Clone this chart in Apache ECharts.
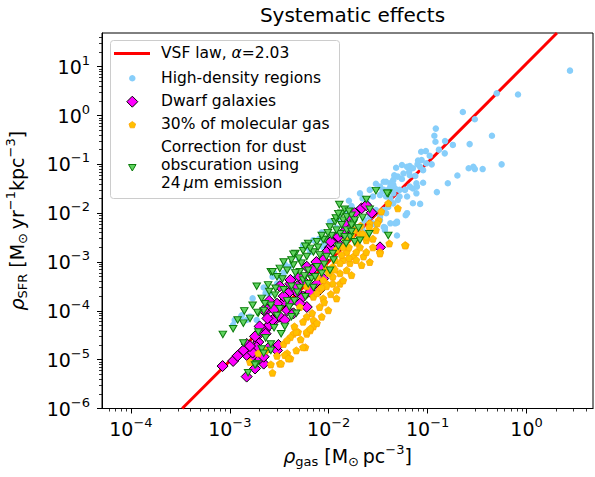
<!DOCTYPE html>
<html>
<head>
<meta charset="utf-8">
<script src="https://cdn.jsdelivr.net/npm/echarts@6/dist/echarts.min.js"></script>
<style>
  html, body { margin: 0; padding: 0; background: #fff; }
  #chart { width: 595px; height: 477px; }
</style>
</head>
<body>
<div id="chart"></div>
<script>
// values (gas density in Msun/pc^3, SFR density in Msun/yr/kpc^3)
const lawGas = [3.3e-4, 2.03];
const lawSfr = [1.0e-6, 49];

const denseGas = [2.75, 0.82, 0.50, 0.227, 0.30, 0.121, 0.117, 0.12, 0.15, 0.447, 0.266, 0.56, 0.29, 0.30, 0.26, 0.36,
  0.20, 0.16, 0.124, 0.084, 0.149, 0.105, 0.086, 0.096, 0.079, 0.084, 0.075, 0.066, 0.055, 0.048, 0.046, 0.036,
  0.044, 0.090, 0.077, 0.071, 0.077, 0.059, 0.052, 0.042, 0.045, 0.038, 0.062, 0.060, 0.049, 0.037, 0.087, 0.097,
  0.071, 0.090, 0.062, 0.066, 0.057, 0.050, 0.045, 0.042, 0.047, 0.038, 0.036, 0.033, 0.042, 0.050, 0.045, 0.040,
  0.036, 0.038, 0.030, 0.028, 0.033, 0.026, 0.023, 0.0215, 0.022, 0.028, 0.033, 0.030, 0.036, 0.042, 0.047, 0.037,
  0.049, 0.078, 0.066, 0.0207, 0.024, 0.033, 0.045, 0.052, 0.049, 0.062, 0.071, 0.0103, 0.0099, 0.0088, 0.0070, 0.0047,
  0.0032, 0.0030, 0.0025, 0.0017, 0.0013, 0.00112, 0.00108, 0.00132, 0.00148, 0.00187, 0.0016, 0.0023, 0.0025, 0.0030, 0.0027,
  0.0152, 0.004, 0.005, 0.006, 0.008, 0.012, 0.015, 0.018, 0.0035, 0.0065, 0.009, 0.011, 0.020, 0.025, 0.017, 0.028,
  0.035, 0.040, 0.026, 0.0022, 0.0028, 0.0036, 0.0045, 0.0055, 0.007, 0.0085, 0.0125, 0.016, 0.022, 0.030, 0.055,
  0.065, 0.080, 0.11, 0.13, 0.18];
const denseSfr = [8.3, 2.7, 2.85, 1.18, 0.84, 0.54, 0.385, 0.29, 0.30, 0.385, 0.26, 0.10, 0.089, 0.080, 0.083, 0.080,
  0.059, 0.041, 0.027, 0.0155, 0.168, 0.15, 0.181, 0.187, 0.10, 0.089, 0.058, 0.092, 0.097, 0.085, 0.060, 0.044,
  0.044, 0.042, 0.041, 0.032, 0.0255, 0.030, 0.022, 0.035, 0.0255, 0.022, 0.022, 0.0091, 0.0064, 0.0051, 0.122, 0.105,
  0.083, 0.076, 0.089, 0.060, 0.065, 0.056, 0.048, 0.041, 0.032, 0.044, 0.030, 0.0235, 0.020, 0.0186, 0.0159, 0.0135,
  0.0116, 0.010, 0.0116, 0.010, 0.0085, 0.0085, 0.0072, 0.0057, 0.0045, 0.0062, 0.0072, 0.0057, 0.0052, 0.0062, 0.0062, 0.0045,
  0.0035, 0.035, 0.035, 0.0255, 0.0186, 0.035, 0.038, 0.030, 0.0067, 0.010, 0.016, 0.0067, 0.0028, 0.0020, 6.8e-4, 5.0e-4,
  5.0e-4, 3.6e-4, 2.3e-4, 1.8e-4, 7.6e-5, 6.5e-5, 5.1e-5, 8.1e-5, 6.5e-5, 6.5e-5, 7.6e-5, 2.3e-4, 1.4e-4, 3.4e-4, 5.0e-4,
  0.010, 8e-4, 1.2e-3, 2e-3, 3e-3, 5e-3, 7e-3, 9e-3, 6e-4, 1.6e-3, 2.5e-3, 3.5e-3, 0.012, 0.015, 0.014, 0.022,
  0.028, 0.030, 0.030, 3e-4, 6e-4, 9e-4, 1.5e-3, 2.2e-3, 2.8e-3, 4e-3, 8e-3, 0.018, 0.020, 0.040, 0.050,
  0.070, 0.12, 0.10, 0.20, 0.25];

const dwarfGas = [8.45e-4, 0.00108, 0.00137, 0.00148, 0.0018, 0.0022, 0.0020, 0.00166, 0.00194, 0.00187, 0.00148, 0.0025,
  0.0030, 0.0031, 0.00226, 0.0020, 0.00244, 0.0025, 0.00286, 0.0032, 0.0036, 0.0038, 0.0041, 0.0035, 0.0041, 0.0047,
  0.0055, 0.0065, 0.0076, 0.0088, 0.0081, 0.0060, 0.0051, 0.0044, 0.0215, 0.0272, 0.033, 0.0164, 0.012, 0.013,
  0.0103, 0.0088, 0.0095, 0.0081, 0.0065, 0.0060, 0.0051, 0.0041, 0.0032, 0.0039, 0.0025, 0.0030, 0.0022, 0.0027,
  0.0020, 0.0023, 0.00148, 0.0017, 0.00137, 0.0022, 0.0145, 0.024, 0.0183, 0.0125, 0.0105, 0.0140, 0.0170, 0.0075,
  0.0068, 0.0056, 0.0048, 0.0035, 0.0028, 0.0024, 0.0018, 0.0016, 0.0012];
const dwarfSfr = [7.4e-6, 9.4e-6, 1.5e-5, 4.5e-6, 6.6e-6, 8.3e-6, 1.06e-5, 1.15e-5, 2.3e-5, 1.8e-5, 1.25e-5, 1.8e-5,
  1.55e-5, 2.0e-5, 4.0e-5, 3.4e-5, 1.1e-4, 5.1e-5, 6.5e-5, 7.6e-5, 6.5e-5, 1.03e-4, 1.53e-4, 1.53e-4, 3.6e-4, 2.45e-4,
  1.95e-4, 2.45e-4, 3.6e-4, 4.6e-4, 2.7e-4, 1.2e-4, 1.4e-4, 8.9e-5, 0.0126, 0.0102, 0.0020, 0.0049, 0.0033, 0.0022,
  0.0020, 0.0011, 0.0016, 8e-4, 5.9e-4, 8e-4, 5e-4, 4.3e-4, 3.2e-4, 2.3e-4, 1.6e-4, 1.4e-4, 1.03e-4, 6.5e-5,
  4.8e-5, 3.4e-5, 2.1e-5, 1.4e-5, 1.55e-5, 1.15e-5, 0.0062, 0.0145, 0.010, 0.0033, 0.0026, 0.0040, 0.0075, 0.0010,
  7e-4, 4e-4, 3.2e-4, 2e-4, 1.05e-4, 7e-5, 3e-5, 1.9e-5, 1.2e-5];

const molGas = [0.040, 0.050, 0.034, 0.032, 0.026, 0.041, 0.060, 0.024, 0.028, 0.033, 0.0207, 0.0225, 0.026, 0.0178,
  0.0164, 0.014, 0.0152, 0.013, 0.011, 0.013, 0.011, 0.0095, 0.012, 0.0099, 0.0081, 0.007, 0.007, 0.006, 0.0065, 0.0049,
  0.0058, 0.0047, 0.0038, 0.0041, 0.0032, 0.0027, 0.0035, 0.0044, 0.0081, 0.007, 0.006, 0.0076, 0.0088, 0.0095, 0.011,
  0.013, 0.0152, 0.019, 0.0215, 0.017, 0.012, 0.006, 0.0051, 0.0016, 0.00194, 0.0023, 0.0033, 0.0036, 0.0039, 0.0055,
  0.0047, 0.006, 0.0065, 0.0085, 0.0076, 0.0041, 0.0038, 0.0088, 0.0076, 0.0095, 0.031, 0.0257, 0.0207, 0.024, 0.059,
  0.033, 0.015, 0.017, 0.019, 0.014, 0.022, 0.018, 0.012, 0.016, 0.0135, 0.0190, 0.0240, 0.0280, 0.0300, 0.0210,
  0.0160, 0.0115, 0.0100, 0.0085, 0.0105, 0.0090, 0.0068, 0.0055, 0.0045, 0.0052, 0.0030, 0.0026, 0.0140, 0.0115];
const molSfr = [0.016, 0.0126, 0.0108, 0.0072, 0.0062, 0.0024, 0.0022, 0.0028, 0.0020, 0.0016, 0.0020, 0.0013, 0.0010, 0.0013,
  9.5e-4, 0.0011, 6.8e-4, 5.9e-4, 5e-4, 3.6e-4, 3.6e-4, 3.6e-4, 1.8e-4, 1.03e-4, 1.2e-4, 6.5e-5, 4.8e-5, 3.4e-5, 4e-5, 3.7e-5,
  1.8e-5, 1.55e-5, 1.35e-5, 1.06e-5, 8.3e-6, 5.4e-6, 2.1e-5, 3.4e-5, 2.7e-4, 1.95e-4, 3.2e-4, 5e-4, 4.3e-4, 7.4e-4, 8e-4,
  9.5e-4, 0.0016, 0.0016, 8.7e-4, 5.4e-4, 2.7e-4, 7.6e-5, 1.2e-4, 9e-6, 1.35e-5, 1.55e-5, 8.3e-6, 1.25e-5, 1.06e-5, 1.8e-5,
  3.7e-5, 3.7e-5, 4.3e-5, 7.6e-5, 5.6e-5, 2.9e-5, 2.5e-5, 1.8e-4, 2.3e-4, 3.2e-4, 0.0062, 0.0052, 0.0038, 0.0033, 0.0022,
  0.0015, 0.0028, 0.0035, 0.0025, 0.0020, 0.0038, 0.0045, 0.0018, 0.0012, 0.0014, 0.0011, 0.0016, 0.0030, 0.0045, 0.0055,
  0.0020, 0.0011, 6.0e-4, 3.0e-4, 2.2e-4, 1.5e-4, 9.0e-5, 6.0e-5, 4.8e-5, 2.6e-5, 1.2e-5, 8e-6, 4.2e-4, 7.0e-4];

const dustGas = [0.0128, 0.0135, 0.0116, 0.014, 0.0152, 0.017, 0.0178, 0.040, 0.0257, 0.040, 0.0062, 0.0076, 0.0092,
  0.0107, 0.013, 0.0152, 0.0164, 0.0183, 0.0207, 0.0046, 0.0055, 0.0070, 0.0060, 0.0081, 0.0095, 0.011, 0.0035, 0.0026,
  0.0032, 0.0044, 0.0053, 0.0051, 0.0062, 0.0067, 0.0076, 0.0085, 0.0103, 0.00244, 0.0030, 0.00187, 0.00286, 0.0035,
  0.0042, 0.0051, 0.0058, 0.007, 0.0038, 0.0032, 0.0026, 0.0022, 0.00194, 0.0016, 0.00137, 0.00108, 0.00085, 0.0036,
  0.0033, 0.0026, 0.0021, 0.00187, 0.00153, 0.0047, 0.0042, 0.0055, 0.0019, 0.0027, 0.00137, 0.0018, 0.00194, 0.0022,
  0.0026, 0.00226, 0.030, 0.039, 0.024, 0.0118, 0.0044, 0.0088, 0.0145, 0.017, 0.0183, 0.0103,
  0.0145, 0.0160, 0.0125, 0.0135, 0.0120, 0.0098, 0.0085, 0.0078, 0.0065, 0.0058, 0.0050, 0.0042, 0.0038, 0.0046,
  0.0057, 0.0034, 0.0029, 0.0025, 0.0021, 0.0017, 0.0014, 0.0012, 0.0048, 0.0062, 0.0073, 0.0090, 0.0112, 0.0125,
  0.0150, 0.0170, 0.0200, 0.0220, 0.0260, 0.0045, 0.0040, 0.0030, 0.0028, 0.0023];
const dustSfr = [0.015, 0.010, 0.0067, 0.0072, 0.0085, 0.0091, 0.0062, 0.0255, 0.0038, 0.0035, 0.0024, 0.0026, 0.0029,
  0.0035, 0.0038, 0.0045, 0.0033, 0.0026, 0.0028, 0.0015, 0.0017, 0.0016, 0.0013, 0.0014, 0.0013, 0.0015, 0.0010, 6.3e-4,
  7.4e-4, 8.7e-4, 9.5e-4, 6.3e-4, 6.8e-4, 4.6e-4, 8e-4, 5.9e-4, 6.8e-4, 3.4e-4, 5e-4, 3.2e-4, 2.1e-4, 2.7e-4,
  3.2e-4, 3.0e-4, 1.95e-4, 3.0e-4, 1.6e-4, 1.1e-4, 1.3e-4, 1.0e-4, 9e-5, 7e-5, 5.6e-5, 4.3e-5, 3.3e-5, 4.8e-5,
  3.4e-5, 2.1e-5, 1.65e-5, 8.3e-6, 5.4e-6, 8.9e-5, 7.6e-5, 4.3e-4, 9.3e-5, 6.3e-4, 2.2e-5, 7.8e-6, 3.7e-5, 1.35e-5,
  1.55e-5, 1.4e-4, 0.029, 0.0255, 0.019, 0.0080, 0.00145, 0.0029, 0.0033, 0.0057, 0.0072, 0.0052,
  0.012, 0.011, 0.0098, 0.0058, 0.0045, 0.0040, 0.0035, 0.0020, 0.0019, 0.0021, 0.0012, 0.0011, 6.8e-4, 6.0e-4,
  5.2e-4, 4.5e-4, 2.9e-4, 2.5e-4, 1.8e-4, 1.3e-4, 1.0e-4, 6.5e-5, 2.4e-4, 3.6e-4, 5.0e-4, 9.0e-4, 0.0011, 0.0021,
  0.0024, 0.0042, 0.0050, 0.0082, 0.012, 1.6e-4, 1.2e-4, 8e-5, 4.5e-5, 2.8e-5];

// axis extent and decades carrying tick labels
const xRange = [5.1e-5, 4.7];
const yRange = [1e-6, 49];
const xTickExp = [-4, -3, -2, -1, 0];
const yTickExp = [-6, -5, -4, -3, -2, -1, 0, 1];

const FONT = 'DejaVu Sans';
const lg = Math.log10;

function pairs(gas, sfr) {
  return gas.map((g, i) => [lg(g), lg(sfr[i])]);
}

// minor ticks at 2..9 x 10^n inside the range
function minorTicks(lo, hi) {
  const out = [];
  for (let e = Math.floor(lo); e < hi; e++) {
    for (let k = 2; k <= 9; k++) {
      const v = e + lg(k);
      if (v > lo && v < hi) out.push(v);
    }
  }
  return out;
}

const richTick = {
  b: { fontSize: 19, lineHeight: 26, fontFamily: FONT, color: '#000' },
  s: { fontSize: 13, lineHeight: 13, fontFamily: FONT, color: '#000', verticalAlign: 'top' }
};
function expLabel(v) {
  const e = Math.round(v);
  return '{b|10}{s|' + (e < 0 ? '\u2212' + (-e) : e) + '}';
}

const richName = {
  i: { fontSize: 19, lineHeight: 26, fontFamily: FONT, fontStyle: 'italic', color: '#000' },
  b: { fontSize: 19, lineHeight: 26, fontFamily: FONT, color: '#000' },
  sub: { fontSize: 13, lineHeight: 13, fontFamily: FONT, color: '#000', verticalAlign: 'bottom', padding: [0, 0, 1, 0] },
  sup: { fontSize: 13, lineHeight: 13, fontFamily: FONT, color: '#000', verticalAlign: 'top' }
};

const xMin = lg(xRange[0]), xMax = lg(xRange[1]);
const yMin = lg(yRange[0]), yMax = lg(yRange[1]);

function majorAxis(min, max, ticks, extra) {
  return Object.assign({
    type: 'value', min: min, max: max,
    axisLine: { show: true, onZero: false, lineStyle: { color: '#000', width: 1 } },
    axisTick: { show: true, inside: false, length: 5, customValues: ticks, lineStyle: { color: '#000', width: 1 } },
    axisLabel: { show: true, customValues: ticks, formatter: expLabel, rich: richTick, color: '#000' },
    splitLine: { show: false },
    minorTick: { show: false }
  }, extra);
}
function minorAxis(min, max, position) {
  return {
    type: 'value', min: min, max: max, position: position,
    axisLine: { show: false, onZero: false },
    axisTick: { show: true, inside: false, length: 3, customValues: minorTicks(min, max), lineStyle: { color: '#000', width: 0.8 } },
    axisLabel: { show: false },
    splitLine: { show: false }
  };
}

const chart = echarts.init(document.getElementById('chart'), null, { renderer: 'svg' });

const mx = 132.3;
const option = {
  animation: false,
  backgroundColor: '#fff',
  title: {
    text: 'Systematic effects',
    left: 347.5, top: 0, textAlign: 'center',
    textStyle: { fontFamily: FONT, fontSize: 20, fontWeight: 'normal', color: '#000' }
  },
  grid: {
    left: 102, right: 2, top: 33, bottom: 68.5,
    show: true, borderColor: '#000', borderWidth: 1,
    containLabel: false, outerBoundsMode: 'none'
  },
  xAxis: [
    majorAxis(xMin, xMax, xTickExp, {
      position: 'bottom',
      axisLabel: { show: true, customValues: xTickExp, formatter: expLabel, rich: richTick, margin: 7 },
      name: '{i|\u03c1}{sub|gas}{b| [M}{sub|\u2299}{b|\u2009pc}{sup|\u22123}{b|]}',
      nameLocation: 'middle', nameGap: 34,
      nameTextStyle: { rich: richName }
    }),
    minorAxis(xMin, xMax, 'bottom')
  ],
  yAxis: [
    majorAxis(yMin, yMax, yTickExp, {
      position: 'left',
      axisLabel: { show: true, customValues: yTickExp, formatter: expLabel, rich: richTick, margin: 12 },
      name: '{i|\u03c1}{sub|SFR}{b| [M}{sub|\u2299}{b|\u2009yr}{sup|\u22121}{b|kpc}{sup|\u22123}{b|]}',
      nameLocation: 'middle', nameGap: 72, nameRotate: 90,
      nameTextStyle: { rich: richName }
    }),
    minorAxis(yMin, yMax, 'left')
  ],
  series: [
    {
      name: 'VSF law', type: 'line', data: pairs(lawGas, lawSfr),
      symbol: 'none', clip: true, silent: true, z: 1,
      lineStyle: { color: '#ff0000', width: 3 }
    },
    {
      name: 'High-density regions', type: 'scatter', data: pairs(denseGas, denseSfr),
      symbol: 'circle', symbolSize: 6.5, z: 2,
      itemStyle: { color: '#87cefa', opacity: 1 }
    },
    {
      name: 'Dwarf galaxies', type: 'scatter', data: pairs(dwarfGas, dwarfSfr),
      symbol: 'diamond', symbolSize: 11, z: 3,
      itemStyle: { color: '#ff00ff', borderColor: '#000', borderWidth: 1, opacity: 1 }
    },
    {
      name: '30% of molecular gas', type: 'scatter', data: pairs(molGas, molSfr),
      symbol: 'path://M5,0L9.76,3.45L7.94,9.05L2.06,9.05L0.24,3.45Z', symbolSize: 7, z: 4,
      itemStyle: { color: '#ffc000', borderColor: '#ffa500', borderWidth: 0.8, opacity: 1 }
    },
    {
      name: 'Correction for dust obscuration using 24 \u03bcm emission', type: 'scatter', data: pairs(dustGas, dustSfr),
      symbol: 'path://M0,0L10,0L5,8.66Z', symbolSize: [7.5, 6.5], z: 5,
      itemStyle: { color: '#5fd35f', borderColor: '#0b7a0b', borderWidth: 1, opacity: 1 }
    }
  ],
  graphic: [
    {
      type: 'rect', z: 100,
      shape: { x: 110.5, y: 40.5, width: 229, height: 158, r: 3 },
      style: { fill: 'rgba(255,255,255,0.8)', stroke: '#cccccc', lineWidth: 1 }
    },
    { type: 'line', z: 101, shape: { x1: 114, y1: 53.5, x2: 150, y2: 53.5 }, style: { stroke: '#ff0000', lineWidth: 3 } },
    { type: 'circle', z: 101, shape: { cx: mx, cy: 78.3, r: 3.25 }, style: { fill: '#87cefa' } },
    {
      type: 'polygon', z: 101,
      shape: { points: [[mx, 96.2], [mx + 5.5, 101.7], [mx, 107.2], [mx - 5.5, 101.7]] },
      style: { fill: '#ff00ff', stroke: '#000', lineWidth: 1 }
    },
    {
      type: 'polygon', z: 101,
      shape: { points: [[mx, 121.5], [mx + 3.33, 123.9], [mx + 2.06, 127.8], [mx - 2.06, 127.8], [mx - 3.33, 123.9]] },
      style: { fill: '#ffc000', stroke: '#ffa500', lineWidth: 0.8 }
    },
    {
      type: 'polygon', z: 101,
      shape: { points: [[mx - 3.75, 164.5], [mx + 3.75, 164.5], [mx, 171]] },
      style: { fill: '#5fd35f', stroke: '#0b7a0b', lineWidth: 1 }
    },
    {
      type: 'text', z: 101, x: 161, y: 53.3,
      style: {
        text: 'VSF law, {i|\u03b1}=2.03', fontFamily: FONT, fontSize: 15.5, fill: '#000', verticalAlign: 'middle',
        rich: { i: { fontFamily: FONT, fontSize: 15.5, fontStyle: 'italic' } }
      }
    },
    { type: 'text', z: 101, x: 161, y: 77.7, style: { text: 'High-density regions', fontFamily: FONT, fontSize: 15.5, fill: '#000', verticalAlign: 'middle' } },
    { type: 'text', z: 101, x: 161, y: 101, style: { text: 'Dwarf galaxies', fontFamily: FONT, fontSize: 15.5, fill: '#000', verticalAlign: 'middle' } },
    { type: 'text', z: 101, x: 161, y: 124.3, style: { text: '30% of molecular gas', fontFamily: FONT, fontSize: 15.5, fill: '#000', verticalAlign: 'middle' } },
    {
      type: 'text', z: 101, x: 161, y: 165,
      style: {
        text: 'Correction for dust\nobscuration using\n24\u2009{i|\u03bc}m emission', fontFamily: FONT, fontSize: 15.5, lineHeight: 18,
        fill: '#000', verticalAlign: 'middle',
        rich: { i: { fontFamily: FONT, fontSize: 15.5, fontStyle: 'italic', lineHeight: 18 } }
      }
    }
  ]
};

chart.setOption(option);
window.addEventListener('resize', () => chart.resize());
</script>
</body>
</html>
